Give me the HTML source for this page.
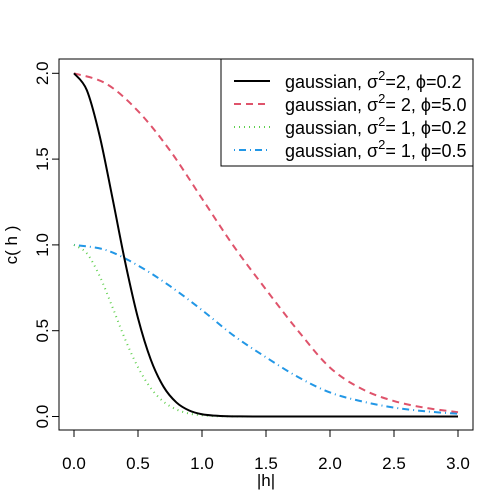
<!DOCTYPE html>
<html><head><meta charset="utf-8"><style>
body{margin:0;background:#fff}
svg{display:block;font-family:"Liberation Sans",sans-serif}
</style></head><body>
<svg id="chart" width="504" height="504" viewBox="0 0 504 504">
<rect x="59" y="59" width="414" height="371" fill="none" stroke="#000" stroke-width="1"/>
<g id="axes"></g>
<g id="series"></g>
<text x="266" y="486" font-size="17" text-anchor="middle">|h|</text>
<text transform="translate(17,245) rotate(-90)" font-size="17" text-anchor="middle">c( h )</text>
<g>
<rect x="221" y="59" width="252" height="107" fill="#fff" stroke="#000"/>
<g>
<line x1="234" y1="81" x2="270" y2="81" stroke="#000" stroke-width="2"/>
<text x="285" y="88" font-size="18">gaussian, σ<tspan dy="-8" font-size="13">2</tspan><tspan dy="8">=2, ϕ=0.2</tspan></text></g>
<g>
<line x1="234" y1="104" x2="270" y2="104" stroke="#DF536B" stroke-width="2" stroke-dasharray="7,5"/>
<text x="285" y="111" font-size="18">gaussian, σ<tspan dy="-8" font-size="13">2</tspan><tspan dy="8">= 2, ϕ=5.0</tspan></text></g>
<g>
<line x1="234" y1="127" x2="270" y2="127" stroke="#61D04F" stroke-width="2" stroke-dasharray="1,4"/>
<text x="285" y="134" font-size="18">gaussian, σ<tspan dy="-8" font-size="13">2</tspan><tspan dy="8">= 1, ϕ=0.2</tspan></text></g>
<g>
<line x1="234" y1="150" x2="270" y2="150" stroke="#2297E6" stroke-width="2" stroke-dasharray="1,4,7,4"/>
<text x="285" y="157" font-size="18">gaussian, σ<tspan dy="-8" font-size="13">2</tspan><tspan dy="8">= 1, ϕ=0.5</tspan></text></g>
</g>
</svg>
<script>
const hFine = [0,0.1,0.2,0.3,0.4,0.5,0.6,0.7,0.8,0.9,1.0,1.1,1.2,1.3,1.4,1.5,2.0,2.5,3.0];
const blackVals = [2,1.902,1.637,1.275,0.899,0.573,0.331,0.173,0.082,0.035,0.013,0.005,0.0015,0.0004,0,0,0,0,0];
const greenVals = [1,0.951,0.819,0.638,0.449,0.287,0.165,0.086,0.041,0.017,0.007,0.002,0.001,0,0,0,0,0,0];
const hCoarse = [0,0.25,0.5,0.75,1.0,1.25,1.5,1.75,2.0,2.25,2.5,2.75,3.0];
const redVals = [2,1.94,1.78,1.55,1.27,0.99,0.74,0.50,0.285,0.16,0.09,0.05,0.025];
const blueVals = [1,0.97,0.88,0.76,0.62,0.47,0.345,0.23,0.14,0.088,0.052,0.03,0.016];
const xTicks = [0,0.5,1.0,1.5,2.0,2.5,3.0];
const xTickLabels = ["0.0","0.5","1.0","1.5","2.0","2.5","3.0"];
const yTicks = [0,0.5,1.0,1.5,2.0];
const yTickLabels = ["0.0","0.5","1.0","1.5","2.0"];

const X = v => 74 + v*128;
const Y = v => 416.5 - v*171.6;
const NS = "http://www.w3.org/2000/svg";
const axes = document.getElementById('axes');
const series = document.getElementById('series');
function mk(tag, attrs, parent){const e=document.createElementNS(NS,tag);for(const k in attrs)e.setAttribute(k,attrs[k]);parent.appendChild(e);return e;}
mk('line',{x1:X(0),x2:X(3),y1:430,y2:430,stroke:'#000'},axes);
xTicks.forEach((t,i)=>{
  const l=mk('line',{x1:X(t),x2:X(t),y1:430,y2:437,stroke:'#000'},axes);
  
  
  const tx=mk('text',{x:X(t),y:469,'font-size':17,'text-anchor':'middle'},axes);
  tx.textContent=xTickLabels[i];
  
  
});
mk('line',{x1:59,x2:59,y1:Y(0),y2:Y(2),stroke:'#000'},axes);
yTicks.forEach((t,i)=>{
  const l=mk('line',{x1:52,x2:59,y1:Y(t),y2:Y(t),stroke:'#000'},axes);
  
  
  const tx=mk('text',{transform:`translate(48,${Y(t)}) rotate(-90)`,'font-size':17,'text-anchor':'middle'},axes);
  tx.textContent=yTickLabels[i];
  
  
});
function pathD(xs,ys){
  const p=xs.map((x,i)=>[X(x),Y(ys[i])]);
  let d=`M${p[0][0]},${p[0][1]}`;
  for(let i=0;i<p.length-1;i++){
    const p0=p[Math.max(0,i-1)],p1=p[i],p2=p[i+1],p3=p[Math.min(p.length-1,i+2)];
    const c1=[p1[0]+(p2[0]-p0[0])/6,p1[1]+(p2[1]-p0[1])/6];
    const c2=[p2[0]-(p3[0]-p1[0])/6,p2[1]-(p3[1]-p1[1])/6];
    d+=` C${c1[0]},${c1[1]} ${c2[0]},${c2[1]} ${p2[0]},${p2[1]}`;
  }
  return d;
}
const r=mk('path',{d:pathD(hCoarse,redVals),fill:'none',stroke:'#DF536B','stroke-width':2,'stroke-dasharray':'7,5'},series);


const b=mk('path',{d:pathD(hCoarse,blueVals),fill:'none',stroke:'#2297E6','stroke-width':2,'stroke-dasharray':'1,4,7,4'},series);


const g=mk('path',{d:pathD(hFine,greenVals),fill:'none',stroke:'#61D04F','stroke-width':2,'stroke-dasharray':'1,4'},series);


const k=mk('path',{d:pathD(hFine,blackVals),fill:'none',stroke:'#000','stroke-width':2},series);


</script>
</body></html>
